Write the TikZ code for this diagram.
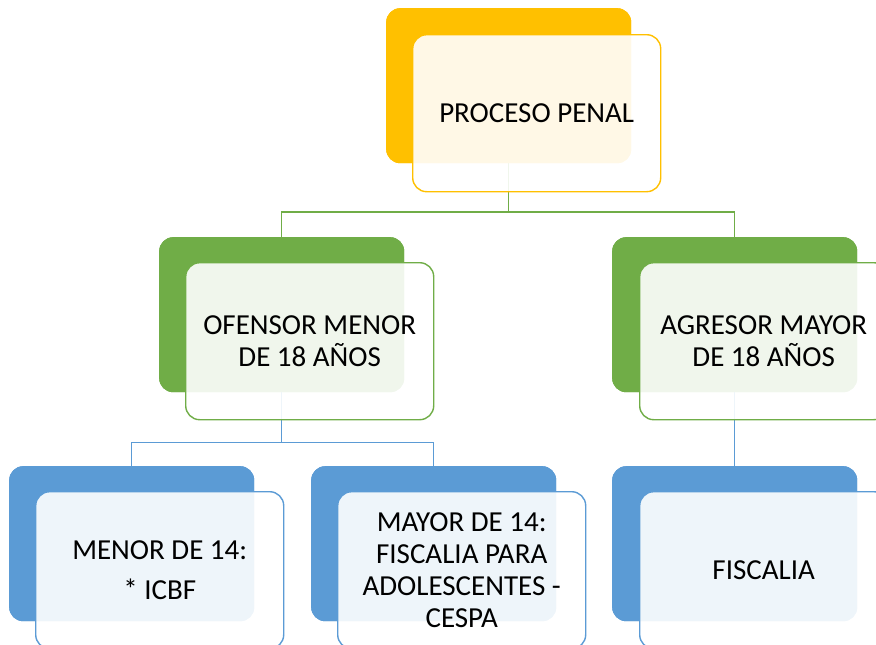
\documentclass[tikz,border=0pt]{standalone}
\usepackage{fontspec}
\setmainfont{Carlito}
\definecolor{cOr}{HTML}{FFC000}
\definecolor{cGr}{HTML}{70AD47}
\definecolor{cBl}{HTML}{5B9BD5}
\begin{document}
\begin{tikzpicture}[x=1pt,y=-1pt,
  backbox/.style={fill=#1, rounded corners=14pt, minimum width=245pt, minimum height=155pt, inner sep=0pt, anchor=north west},
  frontbox/.style={draw=#1, line width=1.4pt, fill=white, fill opacity=0.9, text opacity=1, rounded corners=14pt, minimum width=248pt, minimum height=157pt, inner sep=0pt, anchor=north west, align=center, font=\fontsize{29}{32}\selectfont},
  conn/.style={draw=#1, line width=1.5pt}]
\useasboundingbox (0,0) rectangle (876,645);
\clip (0,0) rectangle (876,645);
\fill[white] (0,0) rectangle (876,645);
% junction levels
\coordinate (j1) at (0,212);
\coordinate (j2) at (0,442.5);
% back boxes
\node[backbox=cOr] (p0) at (386,8) {};
\node[backbox=cGr] (a0) at (159,237) {};
\node[backbox=cGr] (b0) at (612,237) {};
\node[backbox=cBl] (c0) at (9,466) {};
\node[backbox=cBl] (d0) at (311,466) {};
\node[backbox=cBl] (e0) at (612,466) {};
% connectors
\draw[conn=cGr] (p0.south) -- (p0.south |- j1) -| (a0.north);
\draw[conn=cGr] (p0.south |- j1) -| (b0.north);
\draw[conn=cBl] (a0.south) -- (a0.south |- j2) -| (c0.north);
\draw[conn=cBl] (a0.south |- j2) -| (d0.north);
\draw[conn=cBl] (b0.south) -- (e0.north);
% redraw back boxes over connectors
\node[backbox=cOr] at (386,8) {};
\node[backbox=cGr] at (159,237) {};
\node[backbox=cGr] at (612,237) {};
\node[backbox=cBl] at (9,466) {};
\node[backbox=cBl] at (311,466) {};
\node[backbox=cBl] at (612,466) {};
% front boxes
\node[frontbox=cOr] (p) at (412,34) {PROCESO PENAL};
\node[frontbox=cGr] (a) at (185,262) {OFENSOR MENOR\\DE 18 AÑOS};
\node[frontbox=cGr] (b) at (639,262) {AGRESOR MAYOR\\DE 18 AÑOS};
\node[frontbox=cBl] (c) at (35,491) {MENOR DE 14:\\[8pt]* ICBF};
\node[frontbox=cBl] (d) at (337,491) {MAYOR DE 14:\\FISCALIA PARA\\ADOLESCENTES -\\CESPA};
\node[frontbox=cBl] (e) at (639,491) {FISCALIA};
\end{tikzpicture}
\end{document}
